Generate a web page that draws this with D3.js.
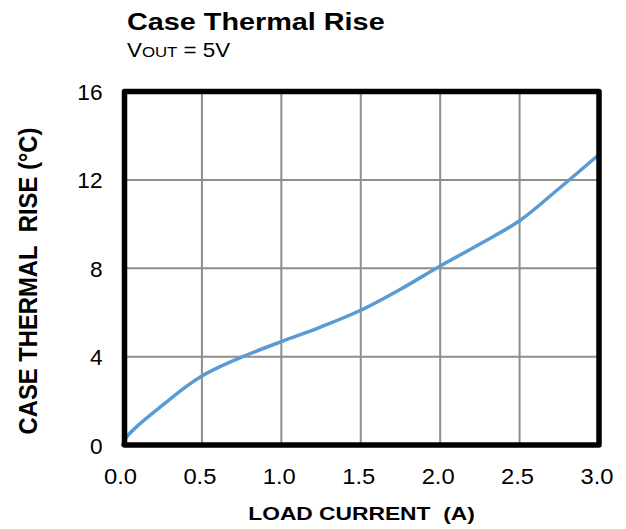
<!DOCTYPE html>
<html>
<head>
<meta charset="utf-8">
<script src="https://cdn.jsdelivr.net/npm/d3@7"></script>
<style>
  html, body { margin: 0; padding: 0; background: #fff; }
  svg { display: block; font-family: "Liberation Sans", Arial, sans-serif; }
</style>
</head>
<body>
<svg id="chart" width="626" height="529"></svg>
<script>
const titleText = "Case Thermal Rise";
const subtitleMain = "V";
const subtitleSub = "OUT";
const subtitleRest = " = 5V";
const xLabel = "LOAD CURRENT\u00a0\u00a0(A)";
const yLabel = "CASE THERMAL\u00a0\u00a0RISE (\u00b0C)";

const xTicks = [0, 0.5, 1.0, 1.5, 2.0, 2.5, 3.0];
const yTicks = [0, 4, 8, 12, 16];

const loadCurrent = [0, 0.03, 0.1, 0.2, 0.3, 0.4, 0.5, 0.6, 0.75, 1.0, 1.25, 1.5, 1.75, 2.0, 2.25, 2.5, 2.75, 3.0];
const thermalRise = [0, 0.4, 0.9, 1.5, 2.08, 2.64, 3.12, 3.5, 3.98, 4.68, 5.35, 6.1, 7.05, 8.1, 9.1, 10.15, 11.62, 13.15];

const svg = d3.select("#chart");
const x = d3.scaleLinear().domain([0, 3]).range([122.5, 599]);
const y = d3.scaleLinear().domain([0, 16]).range([445, 91.5]);

// grid
const grid = svg.append("g");
grid.selectAll("line.v").data(xTicks.slice(1, -1)).enter().append("line")
  .attr("x1", d => x(d)).attr("x2", d => x(d))
  .attr("y1", y(16)).attr("y2", y(0))
  .attr("stroke", "#8e8e8e").attr("stroke-width", 2);
grid.selectAll("line.h").data(yTicks.slice(1, -1)).enter().append("line")
  .attr("x1", x(0)).attr("x2", x(3))
  .attr("y1", d => y(d)).attr("y2", d => y(d))
  .attr("stroke", "#8e8e8e").attr("stroke-width", 2);

// curve
const pts = loadCurrent.map((v, i) => [v, thermalRise[i]]);
const line = d3.line().x(d => x(d[0])).y(d => y(d[1])).curve(d3.curveCatmullRom.alpha(0.5));
svg.append("path").datum(pts).attr("d", line)
  .attr("fill", "none").attr("stroke", "#5b9bd5").attr("stroke-width", 3.5)
  .attr("stroke-linecap", "round");

// frame
svg.append("rect")
  .attr("x", x(0) + 2).attr("y", y(16))
  .attr("width", x(3) - x(0) - 2).attr("height", y(0) - y(16))
  .attr("fill", "none").attr("stroke", "#000").attr("stroke-width", 5.5)
  .attr("stroke-linejoin", "round");

// axes (labels only)
const xAxis = svg.append("g").attr("transform", `translate(0,${y(0)})`)
  .call(d3.axisBottom(x).tickValues(xTicks).tickFormat(d3.format(".1f")).tickSize(0).tickPadding(0));
xAxis.select(".domain").remove();
xAxis.selectAll("text")
  .attr("font-size", 22).attr("fill", "#000")
  .attr("font-family", "Liberation Sans, Arial, sans-serif")
  .attr("dy", 0).attr("y", 0)
  .attr("text-anchor", "middle")
  .attr("transform", "translate(-2.5,38.5) scale(1.08,1)");

const yAxis = svg.append("g").attr("transform", `translate(${x(0)},0)`)
  .call(d3.axisLeft(y).tickValues(yTicks).tickFormat(d3.format("d")).tickSize(0).tickPadding(0));
yAxis.select(".domain").remove();
yAxis.selectAll("text")
  .attr("font-size", 22).attr("fill", "#000")
  .attr("font-family", "Liberation Sans, Arial, sans-serif")
  .attr("x", 0).attr("dy", 0).attr("y", 0)
  .attr("text-anchor", "end")
  .attr("transform", "translate(-20,8) scale(1.03,1)");

// titles
svg.append("text")
  .attr("transform", "translate(127,29.5) scale(1.2,1)")
  .attr("font-size", 24).attr("font-weight", "bold").attr("fill", "#000")
  .text(titleText);

const sub = svg.append("text")
  .attr("transform", "translate(127,56.5) scale(1.12,1)")
  .attr("font-size", 20).attr("fill", "#000");
sub.append("tspan").text(subtitleMain);
sub.append("tspan").attr("font-size", 15).text(subtitleSub);
sub.append("tspan").text(subtitleRest);

svg.append("text")
  .attr("transform", `translate(${(247 + 476) / 2},520) scale(1.2,1)`)
  .attr("text-anchor", "middle")
  .attr("font-size", 19).attr("font-weight", "bold").attr("fill", "#000")
  .text(xLabel);

svg.append("text")
  .attr("transform", "translate(37,281) scale(1.08,1) rotate(-90)")
  .attr("text-anchor", "middle")
  .attr("font-size", 23.8).attr("font-weight", "bold").attr("fill", "#000")
  .text(yLabel);
</script>
</body>
</html>
